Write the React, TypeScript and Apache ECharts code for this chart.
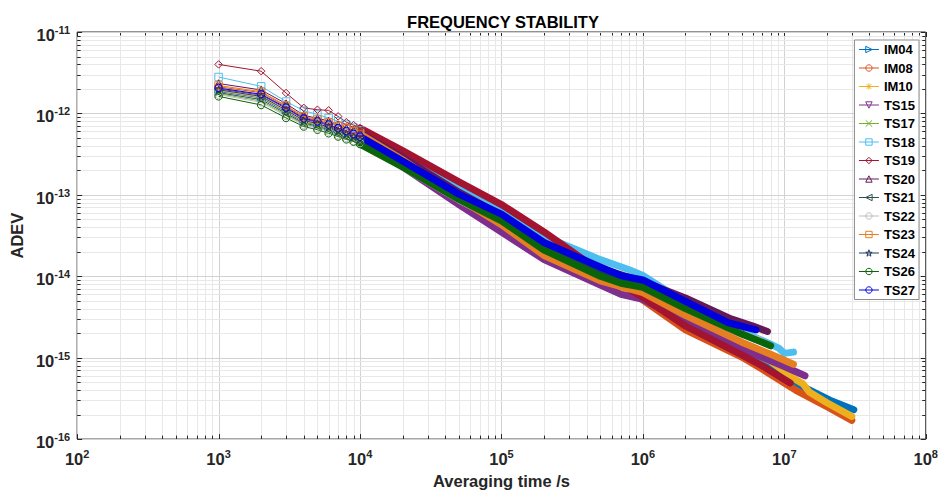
import React, { useEffect, useRef } from 'react';
import * as echarts from 'echarts';

// ---------- data ----------
const seriesNames = ['IM04', 'IM08', 'IM10', 'TS15', 'TS17', 'TS18', 'TS19', 'TS20', 'TS21', 'TS22', 'TS23', 'TS24', 'TS26', 'TS27'];

const tauEarly = [1000, 2000, 3000, 4000, 5000, 6000, 7000, 8000, 9000, 10000];

const IM04_early = [1.86e-12, 1.55e-12, 1.04e-12, 7.9e-13, 7.2e-13, 6.6e-13, 5.9e-13, 5.4e-13, 5.0e-13, 4.6e-13];
const IM08_early = [2.12e-12, 1.80e-12, 1.22e-12, 9.0e-13, 8.2e-13, 7.6e-13, 7.2e-13, 6.7e-13, 6.3e-13, 6.0e-13];
const IM10_early = [1.90e-12, 1.58e-12, 1.07e-12, 8.0e-13, 7.3e-13, 6.7e-13, 6.0e-13, 5.5e-13, 5.1e-13, 4.7e-13];
const TS15_early = [2.00e-12, 1.68e-12, 1.15e-12, 8.5e-13, 7.8e-13, 7.1e-13, 6.3e-13, 5.8e-13, 5.3e-13, 4.9e-13];
const TS17_early = [1.75e-12, 1.42e-12, 9.6e-13, 7.4e-13, 6.8e-13, 6.1e-13, 5.5e-13, 5.1e-13, 4.7e-13, 4.4e-13];
const TS18_early = [2.80e-12, 2.15e-12, 1.40e-12, 1.08e-12, 9.7e-13, 8.8e-13, 8.0e-13, 7.3e-13, 6.7e-13, 6.2e-13];
const TS19_early = [4.0e-12, 3.3e-12, 1.78e-12, 1.17e-12, 1.11e-12, 1.09e-12, 9.2e-13, 7.8e-13, 7.2e-13, 6.6e-13];
const TS20_early = [2.33e-12, 1.94e-12, 1.32e-12, 9.5e-13, 8.7e-13, 8.1e-13, 7.2e-13, 6.6e-13, 6.2e-13, 5.8e-13];
const TS21_early = [1.80e-12, 1.48e-12, 1.00e-12, 7.6e-13, 7.0e-13, 6.3e-13, 5.7e-13, 5.2e-13, 4.8e-13, 4.5e-13];
const TS22_early = [1.70e-12, 1.37e-12, 9.3e-13, 7.2e-13, 6.6e-13, 6.0e-13, 5.4e-13, 5.0e-13, 4.6e-13, 4.3e-13];
const TS23_early = [2.20e-12, 1.85e-12, 1.25e-12, 9.2e-13, 8.4e-13, 7.8e-13, 7.0e-13, 6.5e-13, 6.0e-13, 5.6e-13];
const TS24_early = [1.95e-12, 1.62e-12, 1.10e-12, 8.2e-13, 7.5e-13, 6.8e-13, 6.1e-13, 5.6e-13, 5.2e-13, 4.8e-13];
const TS26_early = [1.62e-12, 1.27e-12, 8.8e-13, 6.9e-13, 6.3e-13, 5.7e-13, 5.2e-13, 4.8e-13, 4.5e-13, 4.2e-13];
const TS27_early = [2.05e-12, 1.72e-12, 1.18e-12, 8.7e-13, 8.0e-13, 7.3e-13, 6.6e-13, 6.1e-13, 5.6e-13, 5.2e-13];

// dense part (averaging time, ADEV)
const IM04_band = [[2e4, 2.3e-13], [5e4, 8.6e-14], [1e5, 4.3e-14], [2e5, 1.8e-14], [5e5, 8.2e-15], [1e6, 5.6e-15], [2e6, 2.8e-15], [5e6, 1.25e-15], [8e6, 7.2e-16], [1.35e7, 4.4e-16], [2.1e7, 3.0e-16], [3.1e7, 2.3e-16]];
const IM08_band = [[2e4, 3.2e-13], [5e4, 1.32e-13], [1e5, 6.9e-14], [2e5, 3.2e-14], [5e5, 1.05e-14], [1e6, 5.1e-15], [2e6, 2.2e-15], [5e6, 1.02e-15], [7e6, 7.2e-16], [1.2e7, 4.0e-16], [2e7, 2.5e-16], [3e7, 1.7e-16]];
const IM10_band = [[2e4, 2.35e-13], [5e4, 8.8e-14], [1e5, 4.4e-14], [2e5, 1.9e-14], [5e5, 8.4e-15], [1e6, 5.8e-15], [2e6, 2.9e-15], [5e6, 1.3e-15], [8e6, 9.0e-16], [1e7, 6.8e-16], [1.2e7, 5.4e-16], [1.35e7, 4.8e-16], [1.5e7, 3.8e-16], [2e7, 2.8e-16], [3e7, 1.9e-16]];
const TS15_band = [[2e4, 2.2e-13], [5e4, 7.6e-14], [1e5, 3.5e-14], [2e5, 1.6e-14], [5e5, 7.8e-15], [7e5, 6.0e-15], [1e6, 5.2e-15], [2e6, 2.75e-15], [5e6, 1.28e-15], [1e7, 7.8e-16], [1.4e7, 6.0e-16]];
const TS17_band = [[2e4, 2.25e-13], [5e4, 8.9e-14], [1e5, 4.8e-14], [2e5, 2.15e-14], [5e5, 1.0e-14], [1e6, 7.4e-15], [2e6, 4.0e-15], [4e6, 2.3e-15]];
const TS18_band = [[2e4, 3.1e-13], [5e4, 1.2e-13], [1e5, 6.2e-14], [2e5, 3.1e-14], [5e5, 1.6e-14], [8e5, 1.2e-14], [1e6, 1.02e-14], [1.5e6, 6.5e-15], [2e6, 4.9e-15], [5e6, 2.1e-15], [8.3e6, 1.42e-15], [9.2e6, 1.3e-15], [1e7, 1.13e-15], [1.16e7, 1.17e-15]];
const TS19_band = [[2e4, 3.5e-13], [5e4, 1.45e-13], [1e5, 7.6e-14], [2e5, 3.5e-14], [5e5, 1.15e-14], [1e6, 5.5e-15], [2e6, 2.45e-15], [5e6, 1.08e-15], [7e6, 7.9e-16], [1.1e7, 4.9e-16]];
const TS20_band = [[2e4, 2.9e-13], [5e4, 1.08e-13], [1e5, 5.6e-14], [2e5, 2.5e-14], [5e5, 1.25e-14], [1e6, 8.6e-15], [2e6, 5.4e-15], [4.2e6, 3.0e-15], [6e6, 2.45e-15], [7.6e6, 2.1e-15]];
const TS21_band = [[2e4, 2.3e-13], [5e4, 9.0e-14], [1e5, 4.9e-14], [2e5, 2.2e-14], [5e5, 1.05e-14], [1e6, 7.6e-15], [2e6, 4.1e-15], [5e6, 2.0e-15]];
const TS22_band = [[2e4, 2.2e-13], [5e4, 8.7e-14], [1e5, 4.7e-14], [2e5, 2.1e-14], [5e5, 9.9e-15], [1e6, 7.3e-15], [2e6, 3.9e-15], [5e6, 1.95e-15], [6.7e6, 1.65e-15]];
const TS23_band = [[2e4, 2.7e-13], [5e4, 9.0e-14], [1e5, 4.3e-14], [2e5, 1.8e-14], [5e5, 8.8e-15], [1e6, 6.3e-15], [2e6, 3.3e-15], [5e6, 1.55e-15], [8e6, 1.1e-15], [1.16e7, 8.3e-16]];
const TS24_band = [[2e4, 2.45e-13], [5e4, 9.5e-14], [1e5, 5.2e-14], [2e5, 2.3e-14], [5e5, 1.15e-14], [1e6, 8.0e-15], [2e6, 4.4e-15], [4.5e6, 2.4e-15]];
const TS26_band = [[2e4, 2.2e-13], [5e4, 8.8e-14], [1e5, 4.8e-14], [2e5, 2.1e-14], [5e5, 1.0e-14], [7e5, 8.2e-15], [1e6, 7.3e-15], [2e6, 4.0e-15], [5e6, 1.95e-15], [8e6, 1.4e-15]];
const TS27_band = [[2e4, 2.6e-13], [5e4, 1.02e-13], [1e5, 5.8e-14], [2e5, 2.6e-14], [5e5, 1.3e-14], [7e5, 1.02e-14], [1e6, 9.0e-15], [2e6, 4.9e-15], [4e6, 2.7e-15], [6.3e6, 2.2e-15]];

const xDecades = [1e2, 1e3, 1e4, 1e5, 1e6, 1e7, 1e8];
const yDecades = [1e-16, 1e-15, 1e-14, 1e-13, 1e-12, 1e-11];

// ---------- style ----------
const earlyList = [IM04_early, IM08_early, IM10_early, TS15_early, TS17_early, TS18_early, TS19_early, TS20_early, TS21_early, TS22_early, TS23_early, TS24_early, TS26_early, TS27_early];
const bandList = [IM04_band, IM08_band, IM10_band, TS15_band, TS17_band, TS18_band, TS19_band, TS20_band, TS21_band, TS22_band, TS23_band, TS24_band, TS26_band, TS27_band];
const colors = ['#0072BD', '#D95319', '#EDB120', '#7E2F8E', '#77AC30', '#4DBEEE', '#A2142F', '#651A58', '#2F4F4F', '#BDBDBD', '#E67E22', '#1F3A5F', '#0A640A', '#0000DD'];

const STAR = 'path://M5,0L6.12,3.45L9.76,3.45L6.82,5.59L7.94,9.05L5,6.91L2.06,9.05L3.18,5.59L0.24,3.45L3.88,3.45Z';
const XMARK = 'path://M0,0L10,10M10,0L0,10';
const ASTER = 'path://M5,0L5,10M0,5L10,5M1.5,1.5L8.5,8.5M8.5,1.5L1.5,8.5';
const symbols = ['triangle', 'circle', ASTER, 'triangle', XMARK, 'rect', 'diamond', 'triangle', 'triangle', 'circle', 'rect', STAR, 'circle', 'circle'];
const rotations = [-90, 0, 0, 180, 0, 0, 0, 0, 90, 0, 0, 0, 0, 0];

const FONT = '"Liberation Sans", Arial, Helvetica, sans-serif';
const TXT = '#262626';

function gridLines(axis: 'x' | 'y') {
  const out: number[][] = [];
  const decs = axis === 'x' ? xDecades : yDecades;
  decs.forEach((d, i) => {
    out.push(axis === 'x' ? [d, 1e-16, 1] : [100, d, 1]);
    if (i < decs.length - 1) {
      for (let m = 2; m <= 9; m++) {
        const v = d * m;
        out.push(axis === 'x' ? [v, 1e-16, 0] : [100, v, 0]);
      }
    }
  });
  return out;
}

function crisp(v: number) {
  return Math.round(v) + 0.5;
}

const labelFormatter = (v: number) => {
  const e = Math.round(Math.log10(v));
  return `{b|10}{s|${e}}`;
};
const labelRich = {
  b: { fontSize: 16.5, fontWeight: 'bold', color: TXT, fontFamily: FONT, lineHeight: 21 },
  s: { fontSize: 11, fontWeight: 'bold', color: TXT, fontFamily: FONT, lineHeight: 11, verticalAlign: 'top' },
};

export default function App() {
  const ref = useRef<HTMLDivElement>(null);
  useEffect(() => {
    document.body.style.margin = '0';
    if (!ref.current) return;
    const chart = echarts.init(ref.current, undefined, { renderer: 'svg' });

    const series: any[] = [];
    // grid lines + ticks
    series.push({
      type: 'custom',
      z: 1,
      silent: true,
      clip: false,
      encode: { x: 0, y: 1 },
      data: gridLines('x'),
      renderItem: (params: any, api: any) => {
        const v = api.value(0);
        const major = api.value(2) === 1;
        const p0 = api.coord([v, 1e-16]);
        const p1 = api.coord([v, 1e-11]);
        const x = crisp(p0[0]);
        const len = major ? 5 : 3.5;
        return {
          type: 'group',
          children: [
            { type: 'line', shape: { x1: x, y1: p0[1], x2: x, y2: p1[1] }, style: { stroke: major ? '#d2d2d2' : '#e8e8e8', lineWidth: 1 } },
            { type: 'line', shape: { x1: x, y1: p0[1], x2: x, y2: p0[1] - len }, style: { stroke: TXT, lineWidth: 1 } },
            { type: 'line', shape: { x1: x, y1: p1[1], x2: x, y2: p1[1] + len }, style: { stroke: TXT, lineWidth: 1 } },
          ],
        };
      },
    });
    series.push({
      type: 'custom',
      z: 1,
      silent: true,
      clip: false,
      encode: { x: 0, y: 1 },
      data: gridLines('y'),
      renderItem: (params: any, api: any) => {
        const v = api.value(1);
        const major = api.value(2) === 1;
        const p0 = api.coord([100, v]);
        const p1 = api.coord([1e8, v]);
        const y = crisp(p0[1]);
        const len = major ? 5 : 3.5;
        return {
          type: 'group',
          children: [
            { type: 'line', shape: { x1: p0[0], y1: y, x2: p1[0], y2: y }, style: { stroke: major ? '#d2d2d2' : '#e8e8e8', lineWidth: 1 } },
            { type: 'line', shape: { x1: p0[0], y1: y, x2: p0[0] + len, y2: y }, style: { stroke: TXT, lineWidth: 1 } },
            { type: 'line', shape: { x1: p1[0], y1: y, x2: p1[0] - len, y2: y }, style: { stroke: TXT, lineWidth: 1 } },
          ],
        };
      },
    });

    seriesNames.forEach((name, i) => {
      const c = colors[i];
      const early = earlyList[i];
      const band = bandList[i];
      series.push({
        type: 'line',
        name,
        z: 3,
        silent: true,
        data: tauEarly.map((t, k) => [t, early[k]]),
        symbol: symbols[i],
        symbolSize: 7.5,
        symbolRotate: rotations[i],
        showSymbol: true,
        lineStyle: { color: c, width: 1 },
        itemStyle: { color: 'rgba(255,255,255,0)', borderColor: c, borderWidth: 1 },
        emphasis: { disabled: true },
      });
      series.push({
        type: 'line',
        name,
        z: 3,
        silent: true,
        data: [[tauEarly[tauEarly.length - 1], early[early.length - 1]], ...band],
        symbol: 'none',
        lineStyle: { color: c, width: 7, cap: 'round', join: 'round' },
        itemStyle: { color: c },
        emphasis: { disabled: true },
      });
    });

    const option: any = {
      animation: false,
      backgroundColor: '#ffffff',
      title: {
        text: 'FREQUENCY STABILITY',
        left: 498,
        textAlign: 'center',
        top: 8,
        textStyle: { fontSize: 16.5, fontWeight: 'bold', color: '#000', fontFamily: FONT },
      },
      grid: {
        left: 70, right: 14, top: 32, bottom: 48,
        show: true, borderColor: TXT, borderWidth: 1, backgroundColor: '#fff',
      },
      legend: {
        data: seriesNames,
        orient: 'vertical',
        right: 22,
        top: 40,
        padding: [3, 4, 3, 4],
        itemGap: 5.5,
        itemWidth: 20,
        itemHeight: 8,
        selectedMode: false,
        backgroundColor: '#fff',
        borderColor: '#8c8c8c',
        borderWidth: 1,
        lineStyle: { width: 1 },
        itemStyle: { borderWidth: 1 },
        textStyle: { fontSize: 13, fontWeight: 'bold', color: '#000', fontFamily: FONT },
      },
      xAxis: {
        type: 'log',
        logBase: 10,
        min: 100,
        max: 1e8,
        splitNumber: 6,
        name: 'Averaging time /s',
        nameLocation: 'middle',
        nameGap: 32,
        nameTextStyle: { fontSize: 16.5, fontWeight: 'bold', color: TXT, fontFamily: FONT },
        axisLine: { show: false },
        axisTick: { show: false },
        splitLine: { show: false },
        axisLabel: { formatter: labelFormatter, rich: labelRich, margin: 9, showMinLabel: true, showMaxLabel: true },
      },
      yAxis: {
        type: 'log',
        logBase: 10,
        min: 1e-16,
        max: 1e-11,
        splitNumber: 5,
        name: 'ADEV',
        nameLocation: 'middle',
        nameRotate: 90,
        nameGap: 44,
        nameTextStyle: { fontSize: 16.5, fontWeight: 'bold', color: TXT, fontFamily: FONT },
        axisLine: { show: false },
        axisTick: { show: false },
        splitLine: { show: false },
        axisLabel: { formatter: labelFormatter, rich: labelRich, margin: 7, padding: [6, 0, 0, 0], showMinLabel: true, showMaxLabel: true },
      },
      series,
    };
    chart.setOption(option);
    return () => chart.dispose();
  }, []);
  return <div ref={ref} style={{ width: 941, height: 494 }} />;
}
